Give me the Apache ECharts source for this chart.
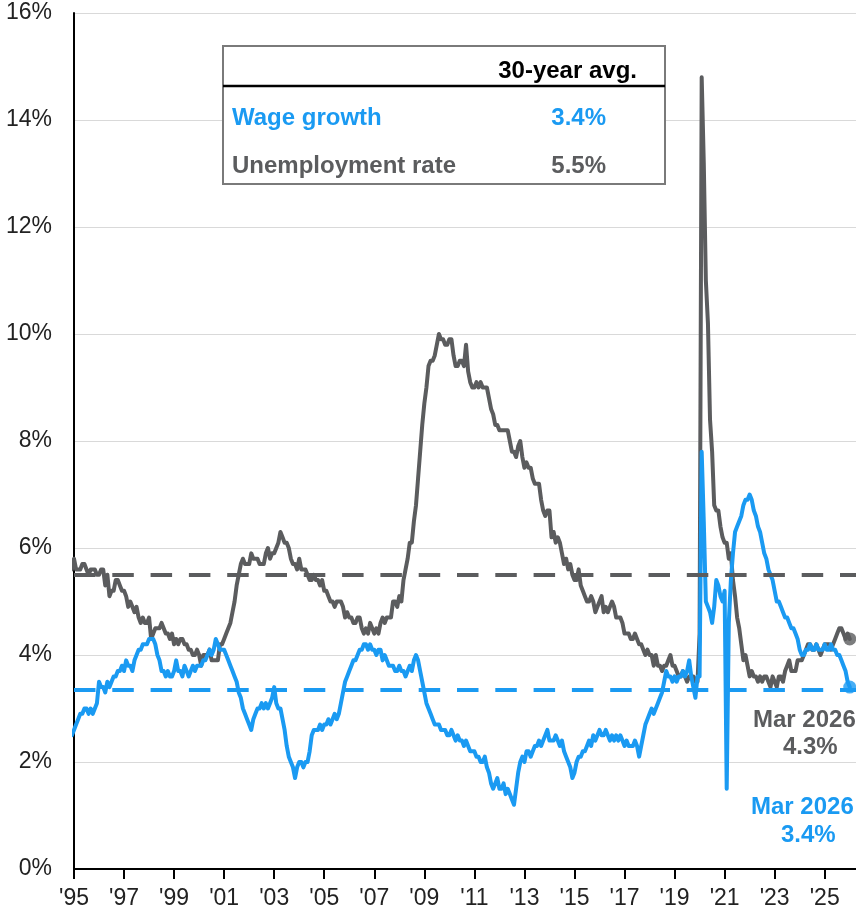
<!DOCTYPE html>
<html>
<head>
<meta charset="utf-8">
<script src="https://cdn.jsdelivr.net/npm/echarts@6/dist/echarts.min.js"></script>
<style>
  html, body { margin: 0; padding: 0; background: #fff; }
  #main { width: 856px; height: 918px; }
</style>
</head>
<body>
<div id="main"></div>
<script>
// monthly values, first = Jan 1995, last = Mar 2026
var xTickLabels = ["'95", "'97", "'99", "'01", "'03", "'05", "'07", "'09", "'11", "'13",
                   "'15", "'17", "'19", "'21", "'23", "'25"];

var wageGrowth = [
  2.5, 2.5, 2.6, 2.7, 2.8, 2.9, 2.9, 3.0, 3.0, 2.9, 3.0, 2.9,   // 1995
  3.0, 3.1, 3.5, 3.4, 3.4, 3.3, 3.5, 3.4, 3.5, 3.6, 3.6, 3.7,   // 1996
  3.7, 3.8, 3.7, 3.9, 3.8, 3.8, 3.7, 3.9, 4.0, 4.1, 4.1, 4.2,   // 1997
  4.2, 4.2, 4.3, 4.3, 4.3, 4.2, 4.0, 3.9, 3.7, 3.7, 3.6, 3.7,   // 1998
  3.6, 3.6, 3.7, 3.9, 3.7, 3.7, 3.6, 3.8, 3.7, 3.6, 3.7, 3.8,   // 1999
  3.7, 3.8, 3.8, 3.8, 3.9, 3.9, 4.0, 4.1, 4.0, 4.1, 4.3, 4.2,   // 2000
  4.1, 4.1, 4.1, 4.0, 3.9, 3.8, 3.7, 3.6, 3.5, 3.3, 3.2, 3.0,   // 2001
  2.9, 2.8, 2.7, 2.6, 2.8, 2.9, 3.0, 3.0, 3.1, 3.0, 3.1, 3.0,   // 2002
  3.1, 3.2, 3.4, 3.1, 3.0, 3.0, 2.8, 2.6, 2.3, 2.1, 2.0, 1.9,   // 2003
  1.7, 1.9, 2.0, 2.0, 1.9, 2.0, 2.0, 2.2, 2.5, 2.6, 2.6, 2.6,   // 2004
  2.7, 2.6, 2.7, 2.7, 2.8, 2.7, 2.8, 2.9, 2.8, 2.9, 3.1, 3.3,   // 2005
  3.5, 3.6, 3.7, 3.8, 3.9, 3.9, 4.0, 4.1, 4.1, 4.2, 4.2, 4.1,   // 2006
  4.2, 4.1, 4.1, 4.0, 4.1, 4.1, 3.9, 4.0, 3.9, 3.8, 3.8, 3.8,   // 2007
  3.7, 3.7, 3.8, 3.7, 3.7, 3.6, 3.7, 3.8, 3.7, 3.9, 4.0, 3.9,   // 2008
  3.7, 3.5, 3.3, 3.1, 3.0, 2.9, 2.8, 2.7, 2.7, 2.7, 2.6, 2.6,   // 2009
  2.6, 2.5, 2.5, 2.6, 2.5, 2.4, 2.5, 2.4, 2.4, 2.3, 2.4, 2.3,   // 2010
  2.2, 2.2, 2.2, 2.1, 2.1, 2.0, 2.0, 2.1, 1.9, 1.8, 1.6, 1.5,   // 2011
  1.6, 1.7, 1.5, 1.5, 1.6, 1.4, 1.5, 1.4, 1.3, 1.2, 1.5, 1.8,   // 2012
  2.0, 2.1, 2.0, 2.2, 2.2, 2.1, 2.2, 2.3, 2.3, 2.4, 2.3, 2.4,   // 2013
  2.5, 2.6, 2.4, 2.4, 2.4, 2.5, 2.4, 2.3, 2.4, 2.2, 2.1, 2.0,   // 2014
  1.9, 1.7, 1.8, 2.0, 2.1, 2.1, 2.2, 2.2, 2.3, 2.4, 2.3, 2.5,   // 2015
  2.4, 2.5, 2.6, 2.5, 2.5, 2.6, 2.5, 2.4, 2.5, 2.4, 2.5, 2.4,   // 2016
  2.5, 2.4, 2.3, 2.4, 2.3, 2.3, 2.3, 2.4, 2.3, 2.1, 2.3, 2.5,   // 2017
  2.7, 2.8, 2.9, 3.0, 2.9, 3.0, 3.1, 3.2, 3.3, 3.5, 3.7, 3.6,   // 2018
  3.6, 3.5, 3.6, 3.5, 3.6, 3.6, 3.7, 3.6, 3.7, 3.9, 3.6, 3.4,   // 2019
  3.2, 3.6, 3.6, 7.8, 6.5, 5.0, 4.9, 4.8, 4.6, 4.9, 5.4, 5.3,   // 2020
  5.1, 5.0, 5.2, 1.5, 4.6, 5.4, 5.9, 6.3, 6.4, 6.5, 6.6, 6.8,   // 2021
  6.9, 6.9, 7.0, 6.9, 6.7, 6.6, 6.4, 6.3, 6.1, 5.9, 5.8, 5.6,   // 2022
  5.5, 5.4, 5.2, 5.0, 5.0, 4.9, 4.8, 4.7, 4.7, 4.6, 4.5, 4.5,   // 2023
  4.4, 4.3, 4.1, 4.0, 4.0, 4.1, 4.1, 4.2, 4.1, 4.1, 4.2, 4.1,   // 2024
  4.1, 4.1, 4.2, 4.1, 4.1, 4.2, 4.1, 4.1, 4.0, 4.0, 3.9, 3.8,   // 2025
  3.7, 3.5, 3.4                                                 // 2026
];

var unemployment = [
  5.6, 5.6, 5.8, 5.6, 5.6, 5.6, 5.7, 5.7, 5.6, 5.5, 5.6, 5.6,   // 1995
  5.6, 5.5, 5.5, 5.6, 5.6, 5.3, 5.5, 5.1, 5.2, 5.2, 5.4, 5.4,   // 1996
  5.3, 5.2, 5.2, 5.1, 4.9, 5.0, 4.9, 4.8, 4.9, 4.7, 4.6, 4.7,   // 1997
  4.6, 4.6, 4.7, 4.3, 4.4, 4.5, 4.5, 4.5, 4.6, 4.5, 4.4, 4.4,   // 1998
  4.3, 4.4, 4.2, 4.3, 4.2, 4.3, 4.3, 4.2, 4.2, 4.1, 4.1, 4.0,   // 1999
  4.0, 4.1, 4.0, 3.8, 4.0, 4.0, 4.0, 4.1, 3.9, 3.9, 3.9, 3.9,   // 2000
  4.2, 4.2, 4.3, 4.4, 4.5, 4.6, 4.8, 5.0, 5.3, 5.5, 5.7, 5.8,   // 2001
  5.7, 5.7, 5.7, 5.9, 5.8, 5.8, 5.8, 5.7, 5.7, 5.7, 5.9, 6.0,   // 2002
  5.8, 5.9, 5.9, 6.0, 6.1, 6.3, 6.2, 6.1, 6.1, 6.0, 5.8, 5.7,   // 2003
  5.7, 5.6, 5.8, 5.6, 5.6, 5.6, 5.5, 5.4, 5.4, 5.5, 5.4, 5.4,   // 2004
  5.3, 5.4, 5.2, 5.2, 5.1, 5.0, 5.0, 4.9, 5.0, 5.0, 5.0, 4.9,   // 2005
  4.7, 4.8, 4.7, 4.7, 4.6, 4.6, 4.7, 4.7, 4.5, 4.4, 4.5, 4.4,   // 2006
  4.6, 4.5, 4.4, 4.5, 4.4, 4.6, 4.7, 4.6, 4.7, 4.7, 4.7, 5.0,   // 2007
  5.0, 4.9, 5.1, 5.0, 5.4, 5.6, 5.8, 6.1, 6.1, 6.5, 6.8, 7.3,   // 2008
  7.8, 8.3, 8.7, 9.0, 9.4, 9.5, 9.5, 9.6, 9.8, 10.0, 9.9, 9.9,  // 2009
  9.8, 9.8, 9.9, 9.9, 9.6, 9.4, 9.4, 9.5, 9.5, 9.4, 9.8, 9.3,   // 2010
  9.1, 9.0, 9.0, 9.1, 9.0, 9.1, 9.0, 9.0, 9.0, 8.8, 8.6, 8.5,   // 2011
  8.3, 8.3, 8.2, 8.2, 8.2, 8.2, 8.2, 8.0, 7.8, 7.8, 7.7, 7.9,   // 2012
  8.0, 7.7, 7.5, 7.6, 7.5, 7.5, 7.3, 7.2, 7.2, 7.2, 6.9, 6.7,   // 2013
  6.6, 6.7, 6.7, 6.2, 6.3, 6.1, 6.2, 6.1, 5.9, 5.7, 5.8, 5.6,   // 2014
  5.7, 5.5, 5.4, 5.4, 5.6, 5.3, 5.2, 5.1, 5.0, 5.0, 5.1, 5.0,   // 2015
  4.8, 4.9, 5.0, 5.1, 4.8, 4.9, 4.8, 4.9, 5.0, 4.9, 4.7, 4.7,   // 2016
  4.7, 4.6, 4.4, 4.4, 4.4, 4.3, 4.3, 4.4, 4.3, 4.2, 4.2, 4.1,   // 2017
  4.0, 4.1, 4.0, 4.0, 3.8, 4.0, 3.8, 3.8, 3.7, 3.8, 3.8, 3.9,   // 2018
  4.0, 3.8, 3.8, 3.7, 3.6, 3.6, 3.7, 3.6, 3.5, 3.6, 3.6, 3.6,   // 2019
  3.5, 3.5, 4.4, 14.8, 13.2, 11.0, 10.2, 8.4, 7.8, 6.8, 6.7, 6.7, // 2020
  6.4, 6.2, 6.1, 6.1, 5.8, 5.9, 5.4, 5.1, 4.7, 4.5, 4.2, 3.9,   // 2021
  4.0, 3.8, 3.6, 3.7, 3.6, 3.6, 3.5, 3.6, 3.5, 3.6, 3.6, 3.5,   // 2022
  3.4, 3.6, 3.5, 3.4, 3.6, 3.6, 3.5, 3.7, 3.8, 3.9, 3.7, 3.7,   // 2023
  3.7, 3.9, 3.9, 3.9, 4.0, 4.1, 4.2, 4.2, 4.1, 4.1, 4.2, 4.1,   // 2024
  4.0, 4.1, 4.2, 4.2, 4.2, 4.1, 4.2, 4.3, 4.4, 4.5, 4.5, 4.4,   // 2025
  4.3, 4.4, 4.3                                                 // 2026
];

var seriesNames = ['Wage growth', 'Unemployment rate'];
var avgValues = [3.35, 5.5];          // 30-year averages (wage, unemployment)
var avgLabels = ['3.4%', '5.5%'];
var lastLabels = ['3.4%', '4.3%'];
var lastDate = 'Mar 2026';

var BLUE = '#1a9af2';
var GRAY = '#5b5c5e';
var FONT = 'Arial, "Liberation Sans", sans-serif';
var LEAD = 2;   // the '95 tick sits two months after the first data point

function toPoints(arr) {
  return arr.map(function (v, i) { return [i, v]; });
}

var tickValues = xTickLabels.map(function (_, k) { return LEAD + k * 24; });
var lastIdx = wageGrowth.length - 1;

var chart = echarts.init(document.getElementById('main'), null, { renderer: 'canvas' });

function txt(x, y, s, color, align) {
  return {
    type: 'text', x: x, y: y, z: 20,
    style: {
      text: s, fill: color, align: align || 'left', verticalAlign: 'middle',
      font: 'bold 24px ' + FONT
    }
  };
}

function avgLine(value, color) {
  return {
    silent: true,
    symbol: ['none', 'none'],
    label: { show: false },
    lineStyle: { color: color, width: 4, type: [21.5, 16.8] },
    data: [{ yAxis: value }]
  };
}

var option = {
  animation: false,
  backgroundColor: '#fff',
  grid: { left: 74, right: 0, top: 13, bottom: 49, outerBoundsMode: 'none' },
  xAxis: {
    type: 'value',
    min: LEAD,
    max: 377,
    axisLine: { onZero: false, lineStyle: { color: '#000', width: 2 } },
    axisTick: { customValues: tickValues, length: 10, lineStyle: { color: '#000', width: 2 } },
    axisLabel: {
      customValues: tickValues,
      formatter: function (v) { return xTickLabels[Math.round((v - LEAD) / 24)]; },
      fontSize: 23, color: '#222', margin: 18, fontFamily: FONT
    },
    splitLine: { show: false }
  },
  yAxis: {
    type: 'value',
    min: 0,
    max: 16,
    interval: 2,
    axisLine: { show: true, onZero: false, lineStyle: { color: '#000', width: 2 } },
    axisTick: { show: false },
    axisLabel: { formatter: '{value}%', fontSize: 23, color: '#222', margin: 22, fontFamily: FONT },
    splitLine: { lineStyle: { color: '#d9d9d9', width: 1 } }
  },
  series: [
    {
      name: seriesNames[1],
      type: 'line',
      data: toPoints(unemployment),
      showSymbol: false,
      lineStyle: { color: GRAY, width: 4, cap: 'round', join: 'round' },
      itemStyle: { color: GRAY },
      z: 3,
      markLine: avgLine(avgValues[1], GRAY)
    },
    {
      name: seriesNames[0],
      type: 'line',
      data: toPoints(wageGrowth),
      showSymbol: false,
      lineStyle: { color: BLUE, width: 4, cap: 'round', join: 'round' },
      itemStyle: { color: BLUE },
      z: 4,
      markLine: avgLine(avgValues[0], BLUE)
    },
    {
      type: 'scatter',
      symbolSize: 13,
      z: 5,
      data: [
        { value: [lastIdx, unemployment[lastIdx]], itemStyle: { color: GRAY } },
        { value: [lastIdx, wageGrowth[lastIdx]], itemStyle: { color: BLUE } }
      ]
    }
  ],
  graphic: [
    // 30-year average table
    {
      type: 'rect', z: 10,
      shape: { x: 223, y: 46, width: 442, height: 138 },
      style: { fill: '#fff', stroke: '#7a7a7a', lineWidth: 2 }
    },
    {
      type: 'line', z: 11,
      shape: { x1: 223, y1: 86, x2: 665, y2: 86 },
      style: { stroke: '#000', lineWidth: 2.5 }
    },
    txt(637, 71, '30-year avg.', '#000', 'right'),
    txt(232, 118, seriesNames[0], BLUE),
    txt(606, 118, avgLabels[0], BLUE, 'right'),
    txt(232, 166, seriesNames[1], GRAY),
    txt(606, 166, avgLabels[1], GRAY, 'right'),
    // end-point annotations
    txt(753, 720, lastDate, GRAY),
    txt(783, 747, lastLabels[1], GRAY),
    txt(751, 807, lastDate, BLUE),
    txt(781, 835, lastLabels[0], BLUE)
  ]
};

chart.setOption(option);
</script>
</body>
</html>
